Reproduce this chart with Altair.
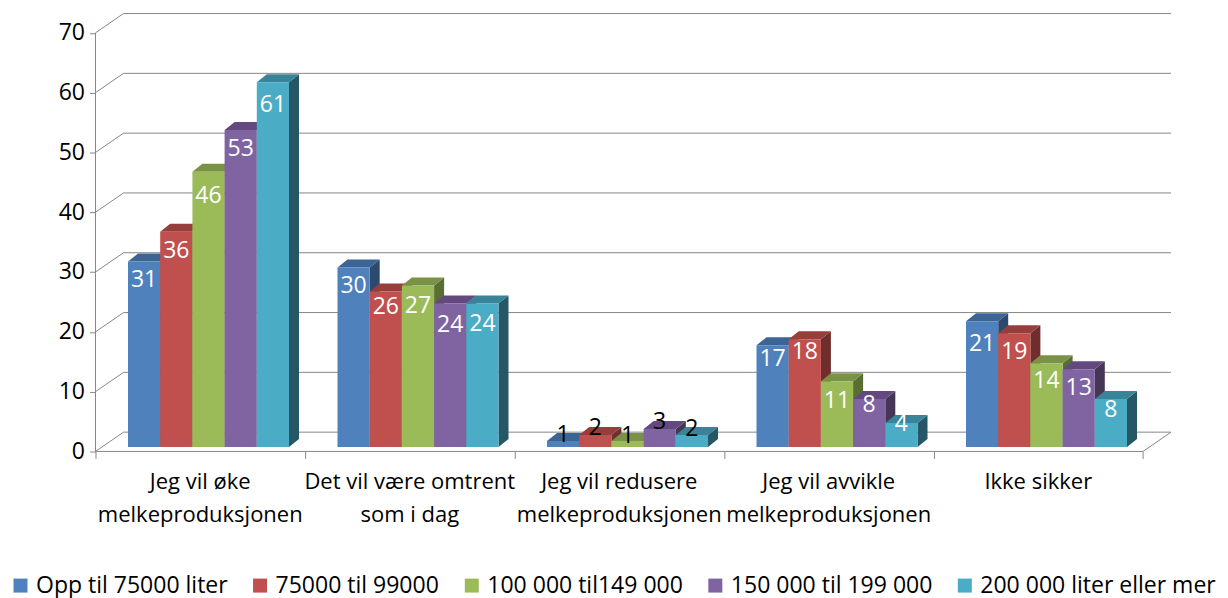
import altair as alt
import pandas as pd

categories = ["Jeg vil øke\nmelkeproduksjonen", "Det vil være omtrent\nsom i dag", "Jeg vil redusere\nmelkeproduksjonen",
              "Jeg vil avvikle\nmelkeproduksjonen", "Ikke sikker"]
series = ["Opp til 75000 liter", "75000 til 99000", "100 000 til149 000", "150 000 til 199 000", "200 000 liter eller mer"]
values = [[31, 30, 1, 17, 21],
          [36, 26, 2, 18, 19],
          [46, 27, 1, 11, 14],
          [53, 24, 3, 8, 13],
          [61, 24, 2, 4, 8]]
front_colors = ["#4F81BD", "#C0504D", "#9BBB59", "#8064A2", "#4BACC6"]
top_colors = ["#3C6594", "#963E3C", "#7A9246", "#63497F", "#3A8499"]
side_colors = ["#2B4A6E", "#6F2D2B", "#5A6D33", "#463655", "#255766"]
# label offsets below bar top, in px (by series, by category)
label_dy = [[18, 18, -6, 14, 23],
            [19, 16, -7, 13, 19],
            [24, 21, -5, 20, 18],
            [19, 22, -7, 6, 19],
            [23, 21, -6, 1, 11]]

S = 1220 / 1212           # the page shrinks a 1220 px wide chart to its 1212 px body
FONT = "Open Sans"
W, H = 1075.5, 438
PX_X = 1 / 209.5          # category units per px
PX_Y = 1 / 5.98           # value units per px
X_MAX = W * PX_X
Y_MAX = H * PX_Y
WALL_X, WALL_Y = 28 * PX_X, 19.3 * PX_Y
BAR_X0, BAR_W = 32.5 * PX_X, 32.2 * PX_X
BAR_BASE = 4.5 * PX_Y
DEPTH_X, DEPTH_Y = 10 * PX_X, 8 * PX_Y

front, side, top, labels = [], [], [], []
for s, name in enumerate(series):
    for c, v in enumerate(values[s]):
        x0 = c + BAR_X0 + s * BAR_W
        x1 = x0 + BAR_W
        yt = v + BAR_BASE
        bid = f"{s}-{c}"
        front.append(dict(series=name, x=x0, x2=x1, y=BAR_BASE, y2=yt))
        side.append(dict(id=bid, fill=side_colors[s], x=x1, y=BAR_BASE, y2=yt))
        side.append(dict(id=bid, fill=side_colors[s], x=x1 + DEPTH_X, y=BAR_BASE + DEPTH_Y, y2=yt + DEPTH_Y))
        top.append(dict(id=bid, fill=top_colors[s], x=x0, x2=x1, y=yt))
        top.append(dict(id=bid, fill=top_colors[s], x=x0 + DEPTH_X, x2=x1 + DEPTH_X, y=yt + DEPTH_Y))
        labels.append(dict(x=(x0 + x1) / 2, y=yt - label_dy[s][c] * PX_Y, text=str(v),
                           color="#000000" if v <= 3 else "#FFFFFF"))

ticks = list(range(0, 71, 10))
back_grid = pd.DataFrame([dict(x=WALL_X, x2=X_MAX, y=t + WALL_Y, y2=t + WALL_Y) for t in ticks])
wall_diag = pd.DataFrame([dict(x=0, x2=WALL_X, y=t, y2=t + WALL_Y) for t in ticks])
frame_lines = pd.DataFrame([
    dict(x=0, x2=0, y=0, y2=70),
    dict(x=0, x2=5, y=0, y2=0),
    dict(x=5, x2=5 + WALL_X, y=0, y2=WALL_Y),
])
cat_df = pd.DataFrame(dict(x=[i + 0.5 for i in range(5)], text=categories))

xs = alt.Scale(domain=[0, X_MAX], nice=False, zero=False)
ys = alt.Scale(domain=[0, Y_MAX], nice=False, zero=False)
X = alt.X("x:Q", scale=xs, title=None,
          axis=alt.Axis(values=[0, 1, 2, 3, 4, 5], labels=False, domain=False, grid=False,
                        tickColor="#868686", tickSize=7 * S, tickWidth=1))
Y = alt.Y("y:Q", scale=ys, title=None,
          axis=alt.Axis(values=ticks, domain=False, grid=False, tickColor="#868686", tickSize=6 * S, tickWidth=1,
                        labelFont=FONT, labelFontSize=23 * S, labelColor="#000000", labelPadding=5))
GRAY = "#868686"

def lines(df):
    return alt.Chart(df).mark_rule(stroke=GRAY, strokeWidth=1).encode(x=X, x2="x2:Q", y=Y, y2="y2:Q")

side_l = alt.Chart(pd.DataFrame(side)).mark_area().encode(
    x=X, y=Y, y2="y2:Q", detail="id:N", fill=alt.Fill("fill:N", scale=None))
top_l = alt.Chart(pd.DataFrame(top)).mark_area(orient="horizontal").encode(
    y=Y, x=X, x2="x2:Q", detail="id:N", fill=alt.Fill("fill:N", scale=None))
front_l = alt.Chart(pd.DataFrame(front)).mark_rect().encode(
    x=X, x2="x2:Q", y=Y, y2="y2:Q",
    color=alt.Color("series:N", sort=series, title=None,
                    scale=alt.Scale(domain=series, range=front_colors),
                    legend=alt.Legend(orient="none", legendX=(9 - 95.5) * S, legendY=(574 - 13.5) * S,
                                      direction="horizontal", columns=5, columnPadding=21 * S,
                                      symbolType="square", symbolSize=196 * S * S, symbolOpacity=1,
                                      symbolStrokeWidth=0, labelFont=FONT, labelFontSize=23 * S,
                                      labelLimit=400, labelColor="#000000", labelOffset=4 * S, padding=0)))
label_l = alt.Chart(pd.DataFrame(labels)).mark_text(font=FONT, fontSize=23 * S, baseline="middle", align="center").encode(
    x=X, y=Y, text="text:N", color=alt.Color("color:N", scale=None))
cat_l = alt.Chart(cat_df).mark_text(font=FONT, fontSize=22 * S, baseline="top", align="center", lineBreak="\n",
                                    lineHeight=33 * S, color="#000000").encode(
    x=X, y=alt.value((H + 21) * S), text="text:N")

chart = alt.layer(lines(back_grid), lines(wall_diag), lines(frame_lines), side_l, top_l, front_l, label_l, cat_l).properties(
    width=W * S, height=H * S, autosize="none",
    padding={"left": 87.5 * S, "top": 3.5 * S, "right": 1220 - (87.5 + W) * S, "bottom": 594 - (3.5 + H) * S},
).configure_view(stroke=None)

chart.save("out.html", embed_options={"renderer": "svg", "actions": False})
